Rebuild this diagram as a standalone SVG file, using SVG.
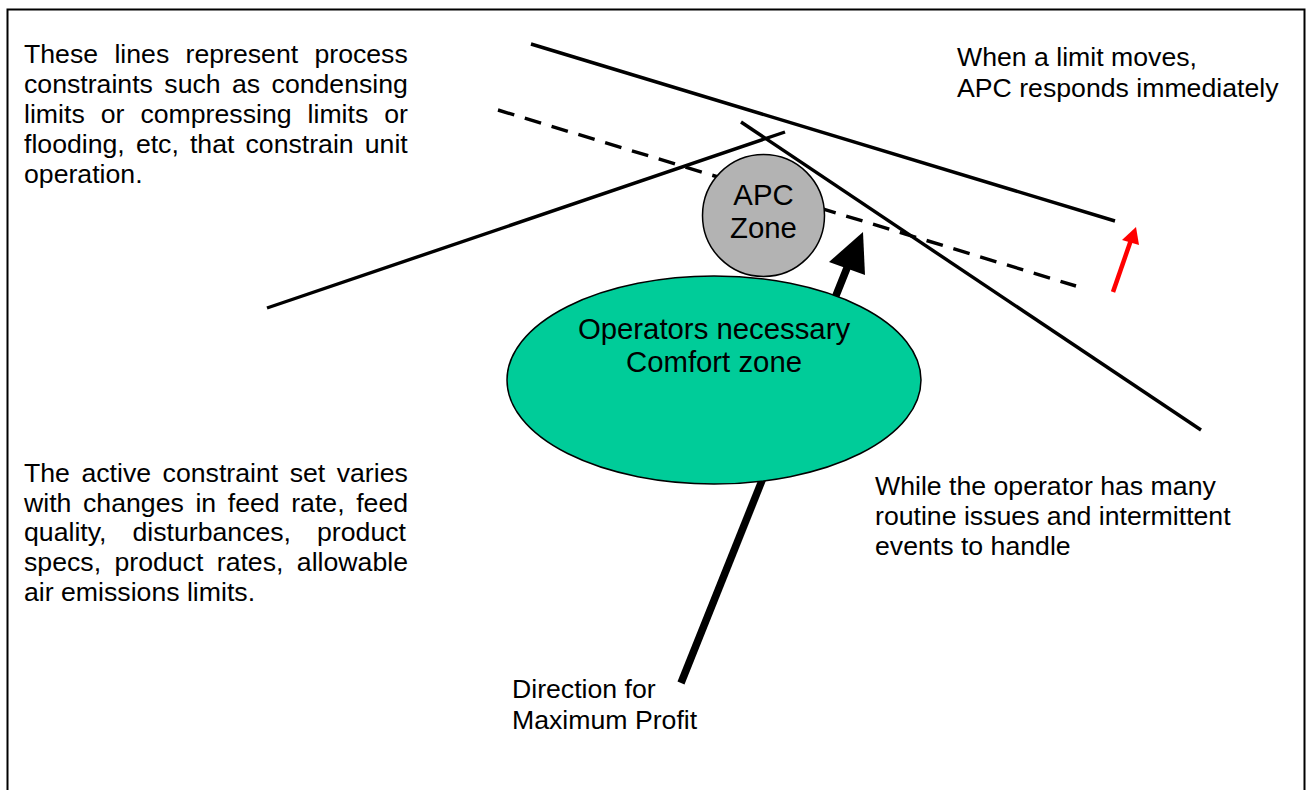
<svg xmlns="http://www.w3.org/2000/svg" width="1307" height="790" viewBox="0 0 1307 790">
  <style>
    .t { font-family: "Liberation Sans", Arial, sans-serif; font-size: 26.67px; fill: #000; }
    .big { font-family: "Liberation Sans", Arial, sans-serif; font-size: 29.33px; fill: #000; text-anchor: middle; }
    .lim { stroke: #000; stroke-width: 3.4; fill: none; }
    .dash { stroke: #000; stroke-width: 3.4; fill: none; stroke-dasharray: 17 11; }
  </style>
  <rect x="0" y="0" width="1307" height="790" fill="#fff"/>
  <rect id="frame" x="7.5" y="9.5" width="1297" height="800" fill="none" stroke="#000" stroke-width="2"/>

  <g id="connectors">
    <line class="lim" x1="531" y1="44" x2="1115" y2="221"/>
    <line class="dash" x1="498" y1="110" x2="1076" y2="286"/>
    <line class="lim" x1="267" y1="308" x2="785" y2="132"/>
    <line class="lim" x1="741" y1="122" x2="1201" y2="430"/>
    <g id="profit-arrow">
      <line x1="681" y1="683" x2="849" y2="263" stroke="#000" stroke-width="7.5"/>
      <polygon points="863,232 829,262 865,275" fill="#000"/>
    </g>
    <g id="limit-arrow">
      <line x1="1113" y1="292" x2="1131" y2="240" stroke="#f00" stroke-width="4.5"/>
      <polygon points="1136,227 1122,240 1139,245" fill="#f00"/>
    </g>
  </g>

  <g id="comfort-zone">
    <ellipse cx="714" cy="380" rx="207" ry="104" fill="#00cc99" stroke="#000" stroke-width="1.5"/>
    <text class="big" x="714" y="339">Operators necessary</text>
    <text class="big" x="714" y="372">Comfort zone</text>
  </g>

  <g id="apc-zone">
    <circle cx="763.5" cy="215.5" r="61" fill="#b3b3b3" stroke="#000" stroke-width="1.5"/>
    <text class="big" x="763.5" y="205">APC</text>
    <text class="big" x="763.5" y="238">Zone</text>
  </g>

  <g id="note-constraints">
    <text class="t" x="24" y="63" word-spacing="8.9">These lines represent process</text>
    <text class="t" x="24" y="93" word-spacing="4.0">constraints such as condensing</text>
    <text class="t" x="24" y="123" word-spacing="8.6">limits or compressing limits or</text>
    <text class="t" x="24" y="153" word-spacing="3.7">flooding, etc, that constrain unit</text>
    <text class="t" x="24" y="183">operation.</text>
  </g>

  <g id="note-active-set">
    <text class="t" x="24" y="482" word-spacing="4.1">The active constraint set varies</text>
    <text class="t" x="24" y="512" word-spacing="4.2">with changes in feed rate, feed</text>
    <text class="t" x="24" y="541" word-spacing="18.6">quality, disturbances, product</text>
    <text class="t" x="24" y="571" word-spacing="6.0">specs, product rates, allowable</text>
    <text class="t" x="24" y="601">air emissions limits.</text>
  </g>

  <g id="note-limit-moves">
    <text class="t" x="957" y="66">When a limit moves,</text>
    <text class="t" x="957" y="97">APC responds immediately</text>
  </g>

  <g id="note-operator">
    <text class="t" x="875" y="495">While the operator has many</text>
    <text class="t" x="875" y="525">routine issues and intermittent</text>
    <text class="t" x="875" y="555">events to handle</text>
  </g>

  <g id="note-direction">
    <text class="t" x="512" y="698">Direction for</text>
    <text class="t" x="512" y="729">Maximum Profit</text>
  </g>
</svg>
